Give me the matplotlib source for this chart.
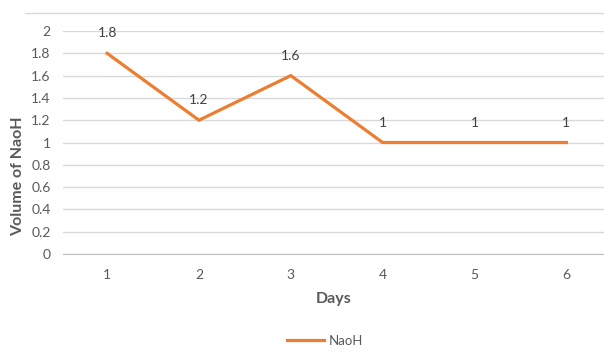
import matplotlib
matplotlib.use("Agg")
import matplotlib.pyplot as plt
from matplotlib.lines import Line2D

days = [1, 2, 3, 4, 5, 6]
naoh = [1.8, 1.2, 1.6, 1, 1, 1]
labels = ["1.8", "1.2", "1.6", "1", "1", "1"]
yticks = [0, 0.2, 0.4, 0.6, 0.8, 1, 1.2, 1.4, 1.6, 1.8, 2]
ytick_labels = ["0", "0.2", "0.4", "0.6", "0.8", "1", "1.2", "1.4", "1.6", "1.8", "2"]

plt.rcParams['font.family'] = ['Lato', 'DejaVu Sans']
orange = "#ED7D31"
gray = "#595959"

fig = plt.figure(figsize=(6.04, 3.5), dpi=100)
ax = fig.add_axes([63 / 604, 96 / 350, 541 / 604, 223 / 350])

ax.plot(days, naoh, color=orange, linewidth=2.3, solid_joinstyle="miter")
for x, y, t in zip(days, naoh, labels):
    ax.annotate(t, (x, y), xytext=(0, 10), textcoords="offset points",
                ha="center", va="bottom", fontsize=10, color="#404040")

ax.set_xlim(0.52, 6.41)
ax.set_ylim(0, 2)
ax.set_yticks(yticks)
ax.set_yticklabels(ytick_labels)
ax.set_xticks(days)
ax.tick_params(length=0, colors=gray, labelsize=10)
ax.tick_params(axis="x", pad=11)
ax.tick_params(axis="y", pad=9)
ax.grid(axis="y", color="#D9D9D9", linewidth=1)
ax.set_axisbelow(True)
for s in ["top", "right", "left"]:
    ax.spines[s].set_visible(False)
ax.spines["bottom"].set_color("#BFBFBF")

ax.set_xlabel("Days", fontsize=11.5, fontweight="bold", color=gray, labelpad=8)
ax.set_ylabel("Volume of NaoH", fontsize=11.5, fontweight="bold", color=gray, va="center")
ax.yaxis.set_label_coords(-0.083, 0.35)

# chart frame line at top
fig.add_artist(Line2D([25 / 604, 1], [1 - 13 / 350, 1 - 13 / 350],
                      color="#D9D9D9", linewidth=1, transform=fig.transFigure))

leg = fig.legend([Line2D([0], [0], color=orange, linewidth=2.3)], ["NaoH"],
                 loc="center", bbox_to_anchor=(325 / 604, 1 - 341 / 350),
                 frameon=False, fontsize=9.5, handlelength=2.8, handletextpad=0.4)
for t in leg.get_texts():
    t.set_color(gray)

fig.savefig("out.png", dpi=100)
